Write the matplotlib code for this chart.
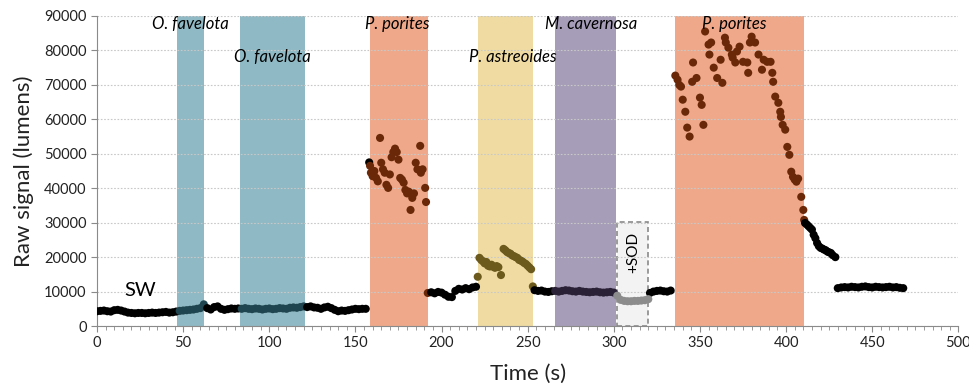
import numpy as np
import matplotlib
matplotlib.use("Agg")
import matplotlib.pyplot as plt
from matplotlib.patches import Rectangle
from matplotlib.ticker import MultipleLocator

plt.rcParams['font.family'] = ['Lato', 'DejaVu Sans']

# ---------------- data ----------------
# baseline seawater segment, sampled every 2 s from t=0
base1_t0, base1_dt = 0, 2
base1_y = [4300, 4400, 4500, 4300, 4200,
           4600, 4700, 4500, 4200, 3900,
           3800, 3700, 3800, 3800, 3700, 3800, 3900, 3800, 3900, 4000, 4100, 3900, 4000,
           4200, 4400, 4500, 4600, 4700, 4800, 5000, 5200,
           6300, 5200, 4800, 5500, 5700, 5000, 4700, 4900, 5100, 5000,
           5100, 5000, 5200, 5000, 4900, 5100, 5000, 4800, 5000, 5100,
           4900, 5000, 5200, 5100, 5000, 5300, 5400, 5300, 5500, 5700,
           5500, 5700, 5400, 5300, 5000, 5400, 5600, 5200, 4700, 4300,
           4500, 4400, 4600, 4800, 5000, 4900, 5000, 5000]

porites1_t = [158, 158.5, 159, 160, 160.5, 161, 162, 163, 164.3, 165, 166, 167, 168, 169,
              170, 171, 172, 173, 174, 175, 176, 177, 178, 179, 180, 181, 182, 183,
              184, 185, 186, 187.6, 188, 189, 190.5, 191]
porites1_y = [47500, 46500, 44500, 43500, 44000, 45000, 43000, 42000, 54600, 47400, 45500,
              44500, 41000, 40100, 44000, 49000, 50500, 51500, 50500, 48300, 43000, 42500,
              41600, 39500, 38500, 39000, 33700, 37200, 38500, 47400, 45500, 52300, 44500,
              45500, 40100, 36000]

base2_t0, base2_dt = 192, 2
base2_y = [9600, 9800, 9500, 9900, 9700, 9100, 8500, 8400, 10200, 10800,
           10600, 11000, 10700, 11200, 11400]

astreo_t = [221, 222, 223, 224, 225, 226, 227, 228, 229, 230, 231, 232, 233, 234.5,
            236, 237, 238, 239, 240, 241, 242, 243, 244, 245, 246, 247, 248, 249,
            250, 251, 252, 253]
astreo_y = [14300, 19800, 19200, 18800, 18200, 18600, 17500, 17300, 17800, 17200, 16900,
            17400, 17100, 14800, 22400, 22000, 21500, 21200, 21000, 20500, 20300, 20000,
            19800, 19200, 19000, 18700, 18300, 18000, 17500, 17000, 16500, 11500]

base3_t0, base3_dt = 254, 2
base3_y = [10400, 10200, 10300, 10000, 9900, 10100, 10200, 10000, 10200, 10400,
           10300, 10100, 10000, 10200, 10000, 9900, 9800, 9900, 10000, 9800,
           9700, 9800, 9900, 9700]

sod_t0, sod_dt = 302, 2
sod_y = [8800, 7600, 7300, 7200, 7200, 7300, 7300, 7400, 7500, 7800]

base4_t0, base4_dt = 321, 2
base4_y = [9600, 10000, 10200, 10300, 10100, 10000, 10300]

porites2_t = [335.7, 337, 338, 339, 340, 341.5, 342.6, 344, 345.5, 346, 348, 350, 351,
              352, 353, 355, 355.5, 356.5, 358, 360, 362, 363, 364.5, 365, 366.5, 368.5,
              369, 370.5, 371.5, 373, 375, 377.5, 378, 379, 380, 382, 384, 386, 387, 389,
              391, 392, 392.5, 393.7, 395.5, 396.6, 397, 398, 399.5, 400.7, 401.9, 403,
              404, 405, 406, 407, 408.8, 410]
porites2_y = [72700, 71500, 70000, 69500, 65700, 62200, 57600, 55000, 70900, 76500, 72000,
              66300, 64200, 58400, 85500, 81700, 78800, 82300, 75000, 72000, 77300, 70600,
              83700, 82300, 80800, 78800, 77900, 76500, 79700, 81100, 76700, 76500, 73500,
              82300, 84000, 82300, 78800, 74400, 77300, 76700, 76700, 73500, 70900, 66600,
              64800, 62200, 60700, 58400, 57000, 52000, 49700, 44800, 43300, 42500, 41900,
              42800, 37500, 33700]

tail_t = [410.5, 411, 412, 413, 414, 415, 416, 417, 418, 419, 420, 421, 422, 423, 424,
          425, 426, 427, 428.6]
tail_y = [30800, 29900, 29500, 29000, 28500, 28000, 26500, 25500, 24100, 23200, 22700,
          22500, 22200, 22000, 21600, 21400, 21200, 20600, 20000]

base5_t0, base5_dt = 430, 2
base5_y = [11000, 11200, 11300, 11200, 11400, 11300, 11200, 11400, 11500, 11300,
           11200, 11400, 11300, 11200, 11300, 11400, 11200, 11300, 11100, 11000]

# treatment windows (s)
windows = [("O. favelota", 46.5, 62.1, "#8fb9c4"),
           ("O. favelota", 83, 120.8, "#8fb9c4"),
           ("P. porites", 158.5, 192.2, "#efa98a"),
           ("P. astreoides", 221, 253, "#f0dca2"),
           ("M. cavernosa", 266, 301, "#a69db8"),
           ("P. porites", 335.7, 410.6, "#efa98a")]
label_pos = [(54, 87800), (102, 78200), (174, 87800), (241.5, 78200), (287, 87800), (370, 87800)]
dot_colors = {"#8fb9c4": "#1f4650", "#efa98a": "#6a2808", "#f0dca2": "#6b5a1c",
              "#a69db8": "#2a2136"}
sod_window = (302, 320, 30200)

# ---------------- assemble ----------------
def seg(t0, dt, ys):
    return [t0 + dt * i for i in range(len(ys))], list(ys)

segments = [seg(base1_t0, base1_dt, base1_y), (porites1_t, porites1_y),
            seg(base2_t0, base2_dt, base2_y), (astreo_t, astreo_y),
            seg(base3_t0, base3_dt, base3_y), seg(base4_t0, base4_dt, base4_y),
            (porites2_t, porites2_y), (tail_t, tail_y), seg(base5_t0, base5_dt, base5_y)]
t_all, y_all = [], []
for ts, ys in segments:
    t_all += list(ts)
    y_all += list(ys)
t_all = np.array(t_all, float)
y_all = np.array(y_all, float)

def color_for(t):
    for _, a, b, c in windows:
        if a <= t <= b:
            return dot_colors[c]
    return "#000000"

cols = [color_for(t) for t in t_all]
sod_t, sod_vals = seg(sod_t0, sod_dt, sod_y)

# ---------------- plot ----------------
fig = plt.figure(figsize=(9.7, 3.9), dpi=100)
ax = fig.add_axes([0.100, 0.164, 0.888, 0.795])

for (name, a, b, c), (lx, ly) in zip(windows, label_pos):
    ax.axvspan(a, b, color=c, lw=0, zorder=1)
    ax.text(lx, ly, name, style='italic', fontsize=12, ha='center', va='center', zorder=5)

ax.add_patch(Rectangle((sod_window[0], 0), sod_window[1] - sod_window[0], sod_window[2],
                       facecolor="#f3f3f3", edgecolor="#8a8a8a", lw=1.2, ls=(0, (3, 2)),
                       zorder=1.2))
ax.text((sod_window[0] + sod_window[1]) / 2, 21500, "+SOD", rotation=90, fontsize=11,
        ha='center', va='center', zorder=5)
ax.text(25, 10300, "SW", fontsize=14.5, ha='center', va='center', zorder=5)

ax.scatter(t_all, y_all, s=34, c=cols, edgecolors='none', zorder=3)
ax.scatter(sod_t, sod_vals, s=34, c="#8c8c8c", edgecolors='none', zorder=3)

ax.set_xlim(0, 500)
ax.set_ylim(0, 90000)
ax.xaxis.set_major_locator(MultipleLocator(50))
ax.xaxis.set_minor_locator(MultipleLocator(5))
ax.yaxis.set_major_locator(MultipleLocator(10000))
ax.yaxis.grid(True, color="#c8c8c8", ls=(0, (1.5, 1.5)), lw=0.8)
for s in ['top', 'right']:
    ax.spines[s].set_visible(False)
for s in ['left', 'bottom']:
    ax.spines[s].set_color("#8a8a8a")
ax.tick_params(axis='both', colors="#8a8a8a", labelcolor="#222222", labelsize=10.5, length=4)
ax.tick_params(axis='x', which='minor', colors="#8a8a8a", length=3)
ax.set_xlabel("Time (s)", fontsize=16, color="#222222", labelpad=10)
ax.set_ylabel("Raw signal (lumens)", fontsize=16, color="#222222", labelpad=7)

fig.savefig("out.png", dpi=100)
